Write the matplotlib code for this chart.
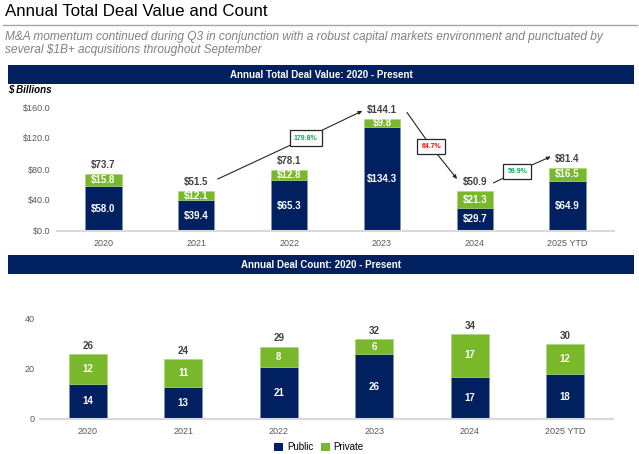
import matplotlib
matplotlib.use("Agg")
import matplotlib.pyplot as plt
from matplotlib.patches import Rectangle, Patch

plt.rcParams['font.family'] = ['Liberation Sans', 'DejaVu Sans']

# ---- data ----
years = ["2020", "2021", "2022", "2023", "2024", "2025 YTD"]
value_public = [58.0, 39.4, 65.3, 134.3, 29.7, 64.9]
value_private = [15.8, 12.1, 12.8, 9.8, 21.3, 16.5]
value_total = [73.7, 51.5, 78.1, 144.1, 50.9, 81.4]
count_public = [14, 13, 21, 26, 17, 18]
count_private = [12, 11, 8, 6, 17, 12]
count_total = [26, 24, 29, 32, 34, 30]
value_ticks = [0, 40, 80, 120, 160]
count_ticks = [0, 20, 40]
# growth callouts: (label, colour, from-index, to-index)
growth = [("179.8%", "#00b050", 1, 3), ("64.7%", "#ff0000", 3, 4), ("59.9%", "#00b050", 4, 5)]

NAVY = "#002060"
GREEN = "#78b82a"
GRAY = "#595959"
DARK = "#404040"

W, H = 639, 454
fig = plt.figure(figsize=(W / 100, H / 100), dpi=100)


def fx(px):
    return px / W


def fy(py):
    return 1 - py / H


# title
fig.text(fx(5), fy(12), "Annual Total Deal Value and Count", fontsize=12.2, color="#000000",
         va="center", ha="left")
fig.add_artist(plt.Line2D([fx(3), fx(637)], [fy(25), fy(25)], color="#a6a6a6", lw=1))
fig.text(fx(5), fy(37), "M&A momentum continued during Q3 in conjunction with a robust capital markets environment and punctuated by",
         fontsize=8.55, style="italic", color="#808080", va="center", ha="left")
fig.text(fx(5), fy(50), "several $1B+ acquisitions throughout September",
         fontsize=8.55, style="italic", color="#808080", va="center", ha="left")

# banners
for y0, y1, txt in [(65, 84, "Annual Total Deal Value: 2020 - Present"),
                    (255, 274, "Annual Deal Count: 2020 - Present")]:
    fig.add_artist(Rectangle((fx(8), fy(y1)), fx(634) - fx(8), fy(y0) - fy(y1),
                             transform=fig.transFigure, facecolor=NAVY, edgecolor="none"))
    fig.text(fx(321), fy((y0 + y1) / 2), txt, color="white", fontsize=7, fontweight="bold",
             ha="center", va="center")

fig.text(fx(8), fy(89), "$ Billions", fontsize=7, fontweight="bold", style="italic",
         ha="left", va="center", color="#000000")


def style_axis(ax):
    for s in ["top", "right", "left"]:
        ax.spines[s].set_visible(False)
    ax.spines["bottom"].set_color("#d9d9d9")
    ax.spines["bottom"].set_linewidth(1.5)
    ax.tick_params(axis="both", length=0, labelsize=6.5, labelcolor=GRAY)
    ax.tick_params(axis="x", pad=6)
    ax.set_xlim(-0.5, 5.5)
    ax.patch.set_alpha(0)


x = list(range(len(years)))

# ---- top chart ----
ax1 = fig.add_axes([fx(57), fy(231), fx(614) - fx(57), fy(107) - fy(231)])
style_axis(ax1)
ax1.set_ylim(0, 160)
ax1.bar(x, value_public, width=0.39, color=NAVY, edgecolor="#7f8fb0", linewidth=0.4)
ax1.bar(x, value_private, width=0.39, bottom=value_public, color=GREEN, edgecolor="#a9d47a",
        linewidth=0.4)
ax1.set_xticks(x)
ax1.set_xticklabels(years)
ax1.set_yticks(value_ticks)
ax1.set_yticklabels([f"${v:.1f}" for v in value_ticks])
ax1.tick_params(axis="y", pad=5)
for i in x:
    ax1.text(i, value_public[i] / 2, f"${value_public[i]:.1f}", color="white", fontsize=7,
             fontweight="bold", ha="center", va="center")
    ax1.text(i, value_public[i] + value_private[i] / 2, f"${value_private[i]:.1f}", color="white",
             fontsize=7, fontweight="bold", ha="center", va="center")
    ax1.annotate(f"${value_total[i]:.1f}", (i, value_public[i] + value_private[i]),
                 xytext=(0, 3), textcoords="offset points", ha="center", va="bottom",
                 fontsize=7, fontweight="bold", color=DARK, annotation_clip=False)

# callouts: start point, box centre, arrow end (data coords)
callout_geom = [((1.23, 67), (2.18, 120), (2.79, 155)),
                ((3.27, 153), (3.53, 109), (3.81, 67)),
                ((4.20, 62), (4.46, 77), (4.82, 96))]
for (lab, col, a, b), (p0, pc, p1) in zip(growth, callout_geom):
    bb = dict(boxstyle="square,pad=0.6", fc="white", ec="#262626", lw=0.9)
    ax1.annotate("", xy=p0, xytext=pc, annotation_clip=False,
                 arrowprops=dict(arrowstyle="-", color="#262626", lw=0.8, shrinkA=0, shrinkB=0,
                                 patchA=None))
    t = ax1.annotate(lab, xy=p1, xytext=pc, fontsize=5, fontweight="bold", color=col,
                     ha="center", va="center", bbox=bb, annotation_clip=False, zorder=5,
                     arrowprops=dict(arrowstyle="-|>,head_length=0.45,head_width=0.2",
                                     color="#262626", lw=0.8, shrinkA=0, shrinkB=0))

# ---- bottom chart ----
ax2 = fig.add_axes([fx(40), fy(419), fx(613) - fx(40), fy(319) - fy(419)])
style_axis(ax2)
ax2.set_ylim(0, 40)
ax2.bar(x, count_public, width=0.40, color=NAVY, edgecolor="#7f8fb0", linewidth=0.4)
ax2.bar(x, count_private, width=0.40, bottom=count_public, color=GREEN, edgecolor="#a9d47a",
        linewidth=0.4)
ax2.set_xticks(x)
ax2.set_xticklabels(years)
ax2.set_yticks(count_ticks)
ax2.tick_params(axis="y", pad=4)
for i in x:
    ax2.text(i, count_public[i] / 2, f"{count_public[i]}", color="white", fontsize=7,
             fontweight="bold", ha="center", va="center")
    ax2.text(i, count_public[i] + count_private[i] / 2, f"{count_private[i]}", color="white",
             fontsize=7, fontweight="bold", ha="center", va="center")
    ax2.annotate(f"{count_total[i]}", (i, count_public[i] + count_private[i]),
                 xytext=(0, 2.5), textcoords="offset points", ha="center", va="bottom",
                 fontsize=7, fontweight="bold", color=DARK, annotation_clip=False)

handles = [Patch(facecolor=NAVY, label="Public"), Patch(facecolor=GREEN, label="Private")]
fig.legend(handles=handles, loc="center", bbox_to_anchor=(fx(319), fy(447)), ncol=2,
           frameon=False, fontsize=7, handlelength=0.9, handleheight=0.9, handletextpad=0.4,
           columnspacing=0.8, borderaxespad=0)

fig.savefig("out.png", dpi=100)
